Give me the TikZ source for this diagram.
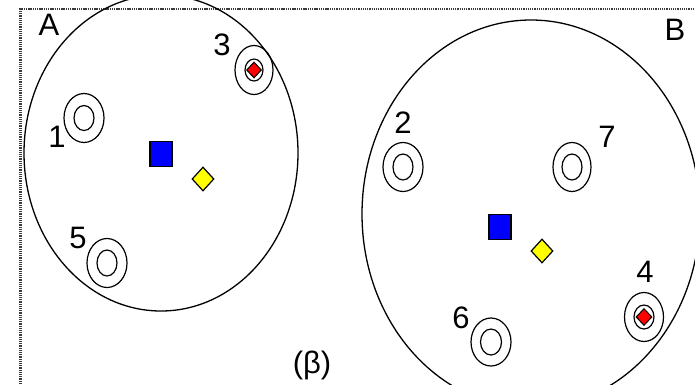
\documentclass[tikz,border=0pt]{standalone}
\usepackage{fontspec}
\setmainfont{Liberation Sans}
\usepackage{tikz}
\usetikzlibrary{shapes.geometric}
\usepackage{xcolor}
\definecolor{sqblue}{RGB}{0,0,255}
\definecolor{dmyellow}{RGB}{255,255,0}
\definecolor{dmred}{RGB}{255,0,0}
\definecolor{framegray}{RGB}{60,60,60}

\begin{document}
\begin{tikzpicture}[x=1pt, y=-1pt,
  lbl/.style={inner sep=0pt, font=\fontsize{31}{36}\selectfont},
  region/.style={draw, line width=1.3pt, ellipse, inner sep=0pt},
  ring/.style={draw, line width=1.2pt, ellipse, inner sep=0pt, minimum width=40pt, minimum height=49pt},
  core/.style={draw, line width=1.2pt, ellipse, inner sep=0pt, minimum width=20pt, minimum height=25pt},
  mean/.style={draw, line width=1.2pt, fill=sqblue, inner sep=0pt, minimum width=22pt, minimum height=25pt},
  median/.style={draw, line width=1.2pt, fill=dmyellow, diamond, inner sep=0pt, minimum width=22pt, minimum height=24pt},
  outlier/.style={draw, line width=1pt, fill=dmred, diamond, inner sep=0pt, minimum width=15pt, minimum height=16pt}]
  \useasboundingbox (0,0) rectangle (695,384);
  \clip (0,0) rectangle (695,384);
  % Frame
  \draw[framegray, line width=2.8pt, dash pattern=on 1.3pt off 0.9pt] (20.5,384) -- (20.5,9) -- (695,9);
  % Cluster A
  \node[region, minimum width=274pt, minimum height=316pt] (ca) at (161,153) {};
  \node[lbl] (la) at (49,25) {A};
  \node[ring] (r1) at (84,118) {};
  \node[core] (c1) at (84,118) {};
  \node[lbl] (l1) at (57,137) {1};
  \node[ring, minimum width=38pt] (r3) at (254,70) {};
  \node[core, minimum width=18pt, minimum height=22pt] (c3) at (254,70) {};
  \node[outlier] (o3) at (254,70) {};
  \node[lbl] (l3) at (222,45) {3};
  \node[ring] (r5) at (107,263) {};
  \node[core, minimum height=26pt] (c5) at (107,263) {};
  \node[lbl] (l5) at (78,238) {5};
  \node[mean] (ma) at (161,154) {};
  \node[median] (da) at (203,179) {};
  % Cluster B
  \node[region, minimum width=338pt, minimum height=388pt] (cb) at (531,214) {};
  \node[lbl] (lb) at (675,30) {B};
  \node[ring] (r2) at (403,167) {};
  \node[core, minimum height=26pt] (c2) at (403,167) {};
  \node[lbl] (l2) at (403,123) {2};
  \node[ring, minimum width=38pt] (r7) at (572,167) {};
  \node[core, minimum height=26pt] (c7) at (572,167) {};
  \node[lbl] (l7) at (607,137) {7};
  \node[ring, minimum width=39pt] (r4) at (644,317) {};
  \node[core, minimum height=24pt] (c4) at (644,317) {};
  \node[outlier, minimum width=16pt, minimum height=17pt] (o4) at (644,317) {};
  \node[lbl] (l4) at (645,272) {4};
  \node[ring, minimum height=48pt] (r6) at (491,342) {};
  \node[core, minimum width=21pt, minimum height=26pt] (c6) at (491,342) {};
  \node[lbl] (l6) at (461,318) {6};
  \node[mean] (mb) at (500,227) {};
  \node[median] (db) at (542,251) {};
  % Caption
  \node[lbl] (cap) at (312,365) {(β)};
\end{tikzpicture}
\end{document}
